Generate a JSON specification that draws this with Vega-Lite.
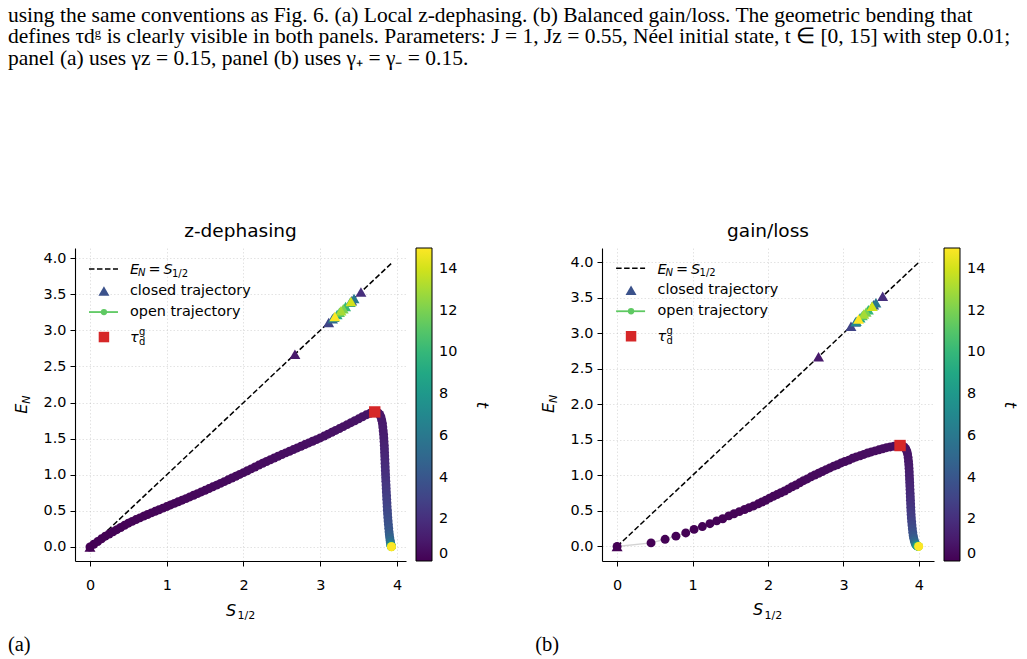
{
  "$schema": "https://vega.github.io/schema/vega-lite/v6.json",
  "background": "white",
  "padding": {"left": 7, "top": 4, "right": 5, "bottom": 5},
  "title": {
    "text": [
      "using the same conventions as Fig. 6. (a) Local z-dephasing. (b) Balanced gain/loss. The geometric bending that",
      "defines τdᵍ is clearly visible in both panels. Parameters: J = 1, Jz = 0.55, Néel initial state, t ∈ [0, 15] with step 0.01;",
      "panel (a) uses γz = 0.15, panel (b) uses γ₊ = γ₋ = 0.15."
    ],
    "anchor": "start",
    "frame": "bounds",
    "font": "Liberation Serif",
    "fontSize": 21.5,
    "fontWeight": "normal",
    "lineHeight": 21.7,
    "color": "black",
    "offset": 152
  },
  "datasets": {
    "diagA": [{"S": 0, "E": 0}, {"S": 3.93, "E": 3.93}],
    "diagB": [{"S": 0, "E": 0}, {"S": 4.0, "E": 4.0}],
    "tauA": [{"S": 3.71, "E": 1.87}],
    "tauB": [{"S": 3.75, "E": 1.42}],
    "note": [{"item": "annotation"}],
    "closedA": [
      {"S": 0, "E": 0, "t": 0}, {"S": 2.67, "E": 2.67, "t": 1}, {"S": 3.53, "E": 3.53, "t": 2},
      {"S": 3.11, "E": 3.11, "t": 3}, {"S": 3.41, "E": 3.41, "t": 4}, {"S": 3.16, "E": 3.16, "t": 5},
      {"S": 3.44, "E": 3.44, "t": 6}, {"S": 3.18, "E": 3.18, "t": 7}, {"S": 3.39, "E": 3.39, "t": 8},
      {"S": 3.22, "E": 3.22, "t": 9}, {"S": 3.33, "E": 3.33, "t": 10}, {"S": 3.25, "E": 3.25, "t": 11},
      {"S": 3.30, "E": 3.30, "t": 12}, {"S": 3.27, "E": 3.27, "t": 13}, {"S": 3.40, "E": 3.40, "t": 14},
      {"S": 3.19, "E": 3.19, "t": 15}
    ],
    "closedB": [
      {"S": 0, "E": 0, "t": 0}, {"S": 2.67, "E": 2.67, "t": 1}, {"S": 3.52, "E": 3.52, "t": 2},
      {"S": 3.10, "E": 3.10, "t": 3}, {"S": 3.40, "E": 3.40, "t": 4}, {"S": 3.16, "E": 3.16, "t": 5},
      {"S": 3.43, "E": 3.43, "t": 6}, {"S": 3.17, "E": 3.17, "t": 7}, {"S": 3.38, "E": 3.38, "t": 8},
      {"S": 3.22, "E": 3.22, "t": 9}, {"S": 3.33, "E": 3.33, "t": 10}, {"S": 3.25, "E": 3.25, "t": 11},
      {"S": 3.30, "E": 3.30, "t": 12}, {"S": 3.27, "E": 3.27, "t": 13}, {"S": 3.38, "E": 3.38, "t": 14},
      {"S": 3.20, "E": 3.20, "t": 15}
    ],
    "openA": [
      {"S": 0.00, "E": 0.000, "t": 0.00}, {"S": 0.05, "E": 0.038, "t": 0.01}, {"S": 0.10, "E": 0.075, "t": 0.02},
      {"S": 0.15, "E": 0.113, "t": 0.03}, {"S": 0.20, "E": 0.150, "t": 0.04}, {"S": 0.25, "E": 0.180, "t": 0.05},
      {"S": 0.30, "E": 0.210, "t": 0.06}, {"S": 0.35, "E": 0.240, "t": 0.07}, {"S": 0.40, "E": 0.270, "t": 0.08},
      {"S": 0.45, "E": 0.300, "t": 0.09}, {"S": 0.50, "E": 0.330, "t": 0.10}, {"S": 0.55, "E": 0.355, "t": 0.11},
      {"S": 0.60, "E": 0.380, "t": 0.12}, {"S": 0.65, "E": 0.403, "t": 0.13}, {"S": 0.70, "E": 0.427, "t": 0.14},
      {"S": 0.75, "E": 0.450, "t": 0.15}, {"S": 0.80, "E": 0.472, "t": 0.16}, {"S": 0.85, "E": 0.494, "t": 0.17},
      {"S": 0.90, "E": 0.516, "t": 0.18}, {"S": 0.95, "E": 0.538, "t": 0.19}, {"S": 1.00, "E": 0.560, "t": 0.20},
      {"S": 1.05, "E": 0.582, "t": 0.21}, {"S": 1.10, "E": 0.604, "t": 0.22}, {"S": 1.15, "E": 0.626, "t": 0.23},
      {"S": 1.20, "E": 0.648, "t": 0.24}, {"S": 1.25, "E": 0.670, "t": 0.25}, {"S": 1.30, "E": 0.693, "t": 0.26},
      {"S": 1.35, "E": 0.716, "t": 0.27}, {"S": 1.40, "E": 0.739, "t": 0.28}, {"S": 1.45, "E": 0.762, "t": 0.29},
      {"S": 1.50, "E": 0.785, "t": 0.30}, {"S": 1.55, "E": 0.809, "t": 0.31}, {"S": 1.60, "E": 0.833, "t": 0.32},
      {"S": 1.65, "E": 0.857, "t": 0.33}, {"S": 1.70, "E": 0.881, "t": 0.34}, {"S": 1.75, "E": 0.905, "t": 0.35},
      {"S": 1.80, "E": 0.930, "t": 0.36}, {"S": 1.85, "E": 0.955, "t": 0.37}, {"S": 1.90, "E": 0.980, "t": 0.38},
      {"S": 1.95, "E": 1.005, "t": 0.39}, {"S": 2.00, "E": 1.030, "t": 0.40}, {"S": 2.05, "E": 1.056, "t": 0.41},
      {"S": 2.10, "E": 1.082, "t": 0.42}, {"S": 2.15, "E": 1.108, "t": 0.43}, {"S": 2.20, "E": 1.134, "t": 0.44},
      {"S": 2.25, "E": 1.160, "t": 0.45}, {"S": 2.30, "E": 1.184, "t": 0.46}, {"S": 2.35, "E": 1.208, "t": 0.47},
      {"S": 2.40, "E": 1.232, "t": 0.48}, {"S": 2.45, "E": 1.256, "t": 0.49}, {"S": 2.50, "E": 1.280, "t": 0.50},
      {"S": 2.55, "E": 1.303, "t": 0.51}, {"S": 2.60, "E": 1.326, "t": 0.52}, {"S": 2.65, "E": 1.349, "t": 0.53},
      {"S": 2.70, "E": 1.372, "t": 0.54}, {"S": 2.75, "E": 1.395, "t": 0.55}, {"S": 2.80, "E": 1.418, "t": 0.56},
      {"S": 2.85, "E": 1.441, "t": 0.57}, {"S": 2.90, "E": 1.464, "t": 0.58}, {"S": 2.95, "E": 1.487, "t": 0.59},
      {"S": 3.00, "E": 1.510, "t": 0.60}, {"S": 3.05, "E": 1.536, "t": 0.61}, {"S": 3.10, "E": 1.562, "t": 0.62},
      {"S": 3.15, "E": 1.588, "t": 0.63}, {"S": 3.20, "E": 1.614, "t": 0.64}, {"S": 3.25, "E": 1.640, "t": 0.65},
      {"S": 3.30, "E": 1.667, "t": 0.66}, {"S": 3.35, "E": 1.694, "t": 0.67}, {"S": 3.40, "E": 1.721, "t": 0.68},
      {"S": 3.45, "E": 1.748, "t": 0.69}, {"S": 3.50, "E": 1.775, "t": 0.70}, {"S": 3.55, "E": 1.803, "t": 0.71},
      {"S": 3.60, "E": 1.830, "t": 0.72}, {"S": 3.65, "E": 1.852, "t": 0.73}, {"S": 3.70, "E": 1.868, "t": 0.74},
      {"S": 3.73, "E": 1.866, "t": 0.77}, {"S": 3.755, "E": 1.855, "t": 0.80}, {"S": 3.775, "E": 1.835, "t": 0.84},
      {"S": 3.79, "E": 1.800, "t": 0.88}, {"S": 3.80, "E": 1.760, "t": 0.93}, {"S": 3.81, "E": 1.710, "t": 0.98},
      {"S": 3.815, "E": 1.660, "t": 1.03}, {"S": 3.82, "E": 1.610, "t": 1.09}, {"S": 3.825, "E": 1.560, "t": 1.15},
      {"S": 3.828, "E": 1.510, "t": 1.21}, {"S": 3.831, "E": 1.460, "t": 1.28}, {"S": 3.834, "E": 1.410, "t": 1.35},
      {"S": 3.836, "E": 1.360, "t": 1.42}, {"S": 3.838, "E": 1.310, "t": 1.50}, {"S": 3.840, "E": 1.260, "t": 1.58},
      {"S": 3.842, "E": 1.210, "t": 1.66}, {"S": 3.844, "E": 1.160, "t": 1.74}, {"S": 3.846, "E": 1.110, "t": 1.83},
      {"S": 3.848, "E": 1.060, "t": 1.92}, {"S": 3.850, "E": 1.010, "t": 2.01}, {"S": 3.852, "E": 0.960, "t": 2.10},
      {"S": 3.854, "E": 0.910, "t": 2.20}, {"S": 3.857, "E": 0.860, "t": 2.30}, {"S": 3.859, "E": 0.810, "t": 2.40},
      {"S": 3.861, "E": 0.760, "t": 2.51}, {"S": 3.864, "E": 0.710, "t": 2.62}, {"S": 3.866, "E": 0.660, "t": 2.73},
      {"S": 3.869, "E": 0.610, "t": 2.85}, {"S": 3.871, "E": 0.560, "t": 2.97}, {"S": 3.874, "E": 0.510, "t": 3.10},
      {"S": 3.877, "E": 0.460, "t": 3.24}, {"S": 3.880, "E": 0.410, "t": 3.39}, {"S": 3.884, "E": 0.360, "t": 3.55},
      {"S": 3.888, "E": 0.310, "t": 3.73}, {"S": 3.892, "E": 0.260, "t": 3.93}, {"S": 3.896, "E": 0.210, "t": 4.16},
      {"S": 3.900, "E": 0.170, "t": 4.42}, {"S": 3.905, "E": 0.130, "t": 4.72}, {"S": 3.910, "E": 0.095, "t": 5.06},
      {"S": 3.914, "E": 0.065, "t": 5.45}, {"S": 3.918, "E": 0.042, "t": 5.92}, {"S": 3.921, "E": 0.026, "t": 6.5},
      {"S": 3.923, "E": 0.016, "t": 7.2}, {"S": 3.925, "E": 0.010, "t": 8.0}, {"S": 3.926, "E": 0.007, "t": 9.5},
      {"S": 3.927, "E": 0.005, "t": 11.5}, {"S": 3.928, "E": 0.004, "t": 13.5}, {"S": 3.928, "E": 0.003, "t": 15.0}
    ],
    "openB": [
      {"S": 0.00, "E": 0.000, "t": 0.00}, {"S": 0.45, "E": 0.050, "t": 0.01}, {"S": 0.636, "E": 0.100, "t": 0.02},
      {"S": 0.78, "E": 0.145, "t": 0.03}, {"S": 0.91, "E": 0.190, "t": 0.04}, {"S": 1.02, "E": 0.240, "t": 0.05},
      {"S": 1.13, "E": 0.280, "t": 0.06}, {"S": 1.23, "E": 0.320, "t": 0.07}, {"S": 1.32, "E": 0.360, "t": 0.08},
      {"S": 1.40, "E": 0.390, "t": 0.09}, {"S": 1.48, "E": 0.430, "t": 0.10}, {"S": 1.55, "E": 0.460, "t": 0.11},
      {"S": 1.62, "E": 0.490, "t": 0.12}, {"S": 1.69, "E": 0.520, "t": 0.13}, {"S": 1.75, "E": 0.545, "t": 0.14},
      {"S": 1.81, "E": 0.570, "t": 0.15}, {"S": 1.87, "E": 0.600, "t": 0.16}, {"S": 1.92, "E": 0.625, "t": 0.17},
      {"S": 1.97, "E": 0.650, "t": 0.18}, {"S": 2.02, "E": 0.680, "t": 0.19}, {"S": 2.07, "E": 0.705, "t": 0.20},
      {"S": 2.12, "E": 0.730, "t": 0.21}, {"S": 2.17, "E": 0.755, "t": 0.22}, {"S": 2.22, "E": 0.780, "t": 0.23},
      {"S": 2.27, "E": 0.810, "t": 0.24}, {"S": 2.32, "E": 0.840, "t": 0.25}, {"S": 2.37, "E": 0.865, "t": 0.26},
      {"S": 2.42, "E": 0.895, "t": 0.27}, {"S": 2.47, "E": 0.925, "t": 0.28}, {"S": 2.52, "E": 0.950, "t": 0.29},
      {"S": 2.57, "E": 0.980, "t": 0.30}, {"S": 2.62, "E": 1.005, "t": 0.31}, {"S": 2.67, "E": 1.030, "t": 0.32},
      {"S": 2.72, "E": 1.055, "t": 0.33}, {"S": 2.77, "E": 1.080, "t": 0.34}, {"S": 2.82, "E": 1.105, "t": 0.35},
      {"S": 2.87, "E": 1.130, "t": 0.36}, {"S": 2.92, "E": 1.150, "t": 0.37}, {"S": 2.97, "E": 1.175, "t": 0.38},
      {"S": 3.02, "E": 1.195, "t": 0.39}, {"S": 3.07, "E": 1.215, "t": 0.40}, {"S": 3.12, "E": 1.240, "t": 0.41},
      {"S": 3.17, "E": 1.260, "t": 0.42}, {"S": 3.22, "E": 1.275, "t": 0.43}, {"S": 3.27, "E": 1.295, "t": 0.44},
      {"S": 3.32, "E": 1.315, "t": 0.45}, {"S": 3.37, "E": 1.330, "t": 0.46}, {"S": 3.42, "E": 1.345, "t": 0.47},
      {"S": 3.47, "E": 1.360, "t": 0.48}, {"S": 3.52, "E": 1.375, "t": 0.49}, {"S": 3.57, "E": 1.390, "t": 0.50},
      {"S": 3.62, "E": 1.400, "t": 0.51}, {"S": 3.67, "E": 1.410, "t": 0.52}, {"S": 3.72, "E": 1.418, "t": 0.53},
      {"S": 3.78, "E": 1.415, "t": 0.58}, {"S": 3.805, "E": 1.400, "t": 0.62}, {"S": 3.825, "E": 1.375, "t": 0.67},
      {"S": 3.84, "E": 1.340, "t": 0.72}, {"S": 3.85, "E": 1.300, "t": 0.78}, {"S": 3.857, "E": 1.250, "t": 0.85},
      {"S": 3.862, "E": 1.200, "t": 0.92}, {"S": 3.866, "E": 1.150, "t": 1.00}, {"S": 3.869, "E": 1.100, "t": 1.08},
      {"S": 3.872, "E": 1.050, "t": 1.16}, {"S": 3.874, "E": 1.000, "t": 1.25}, {"S": 3.876, "E": 0.950, "t": 1.34},
      {"S": 3.878, "E": 0.900, "t": 1.44}, {"S": 3.880, "E": 0.850, "t": 1.54}, {"S": 3.882, "E": 0.800, "t": 1.65},
      {"S": 3.884, "E": 0.750, "t": 1.76}, {"S": 3.886, "E": 0.700, "t": 1.88}, {"S": 3.888, "E": 0.650, "t": 2.00},
      {"S": 3.890, "E": 0.600, "t": 2.13}, {"S": 3.892, "E": 0.550, "t": 2.27}, {"S": 3.894, "E": 0.500, "t": 2.42},
      {"S": 3.897, "E": 0.450, "t": 2.58}, {"S": 3.900, "E": 0.400, "t": 2.75}, {"S": 3.904, "E": 0.350, "t": 2.94},
      {"S": 3.908, "E": 0.300, "t": 3.15}, {"S": 3.913, "E": 0.250, "t": 3.38}, {"S": 3.918, "E": 0.200, "t": 3.64},
      {"S": 3.924, "E": 0.155, "t": 3.93}, {"S": 3.931, "E": 0.115, "t": 4.27}, {"S": 3.939, "E": 0.080, "t": 4.67},
      {"S": 3.948, "E": 0.052, "t": 5.15}, {"S": 3.957, "E": 0.031, "t": 5.75}, {"S": 3.966, "E": 0.017, "t": 6.5},
      {"S": 3.975, "E": 0.008, "t": 7.5}, {"S": 3.983, "E": 0.004, "t": 8.8}, {"S": 3.990, "E": 0.002, "t": 10.5},
      {"S": 3.995, "E": 0.001, "t": 12.5}, {"S": 3.998, "E": 0.000, "t": 15.0}
    ]
  },
  "hconcat": [
    {
      "title": {"text": "(a)", "orient": "bottom", "anchor": "start", "frame": "bounds", "font": "Liberation Serif", "fontSize": 20.5, "fontWeight": "normal", "color": "black", "offset": 14, "dx": -6},
      "resolve": {"scale": {"color": "independent"}, "legend": {"color": "independent"}},
      "vconcat": [
        {
          "width": 331,
          "height": 313,
          "title": {"text": "z-dephasing", "fontSize": 18.5, "fontWeight": "normal", "offset": 8, "frame": "group", "anchor": "middle"},
          "layer": [
            {"data": {"name": "diagA"}, "mark": {"type": "line", "color": "black", "strokeWidth": 1.5, "strokeDash": [5.5, 2.5]},
             "encoding": {
               "x": {"field": "S", "type": "quantitative", "scale": {"domain": [-0.195, 4.117], "nice": false, "zero": false}, "axis": {"title": null, "values": [0, 1, 2, 3, 4], "format": "d"}},
               "y": {"field": "E", "type": "quantitative", "scale": {"domain": [-0.194, 4.14], "nice": false, "zero": false}, "axis": {"title": null, "values": [0, 0.5, 1, 1.5, 2, 2.5, 3, 3.5, 4], "format": ".1f"}}
             }},
            {"data": {"name": "openA"}, "mark": {"type": "line", "color": "#c8c8c8", "strokeWidth": 1.5, "opacity": 0.8},
             "encoding": {
               "x": {"field": "S", "type": "quantitative", "axis": {"title": null, "values": [0, 1, 2, 3, 4], "format": "d"}},
               "y": {"field": "E", "type": "quantitative", "axis": {"title": null, "values": [0, 0.5, 1, 1.5, 2, 2.5, 3, 3.5, 4], "format": ".1f"}},
               "order": {"field": "t", "type": "quantitative"}}},
            {"data": {"name": "openA"}, "mark": {"type": "circle", "size": 80, "opacity": 1},
             "encoding": {
               "x": {"field": "S", "type": "quantitative", "axis": {"title": null, "values": [0, 1, 2, 3, 4], "format": "d"}},
               "y": {"field": "E", "type": "quantitative", "axis": {"title": null, "values": [0, 0.5, 1, 1.5, 2, 2.5, 3, 3.5, 4], "format": ".1f"}},
               "color": {"field": "t", "type": "quantitative", "scale": {"scheme": "viridis", "domain": [0, 15]},
                 "legend": {"title": "t", "orient": "right", "offset": 10, "direction": "vertical", "gradientLength": 313, "gradientThickness": 16, "gradientStrokeColor": "black", "gradientStrokeWidth": 1, "values": [0, 2, 4, 6, 8, 10, 12, 14], "labelFontSize": 14.4, "labelColor": "black", "labelOffset": 7, "titleOrient": "right", "titleAnchor": "middle", "titleFontSize": 16, "titleFontStyle": "italic", "titleFontWeight": "normal", "titleColor": "black", "titlePadding": 17,
                   "encode": {"labels": {"update": {"baseline": {"value": "middle"}}}, "title": {"update": {"angle": {"value": 270}}}}}},
               "order": {"field": "t", "type": "quantitative"}
             }},
            {"data": {"name": "closedA"}, "mark": {"type": "point", "shape": "triangle-up", "filled": true, "size": 120, "opacity": 1},
             "encoding": {
               "x": {"field": "S", "type": "quantitative", "axis": {"title": null, "values": [0, 1, 2, 3, 4], "format": "d"}},
               "y": {"field": "E", "type": "quantitative", "axis": {"title": null, "values": [0, 0.5, 1, 1.5, 2, 2.5, 3, 3.5, 4], "format": ".1f"}},
               "color": {"field": "t", "type": "quantitative", "scale": {"scheme": "viridis", "domain": [0, 15]}}, "order": {"field": "t", "type": "quantitative"}}},
            {"data": {"name": "tauA"}, "mark": {"type": "square", "size": 130, "color": "#d62728", "opacity": 1},
             "encoding": {
               "x": {"field": "S", "type": "quantitative", "axis": {"title": null, "values": [0, 1, 2, 3, 4], "format": "d"}},
               "y": {"field": "E", "type": "quantitative", "axis": {"title": null, "values": [0, 0.5, 1, 1.5, 2, 2.5, 3, 3.5, 4], "format": ".1f"}}}},
            {"data": {"name": "note"}, "mark": {"type": "rule", "color": "black", "strokeWidth": 1.5, "strokeDash": [5.5, 2.5]}, "encoding": {"x": {"datum": -0.013, "type": "quantitative", "axis": {"title": null, "values": [0, 1, 2, 3, 4], "format": "d"}}, "x2": {"datum": 0.365}, "y": {"datum": 3.848, "type": "quantitative", "axis": {"title": null, "values": [0, 0.5, 1, 1.5, 2, 2.5, 3, 3.5, 4], "format": ".1f"}}}},
            {"data": {"name": "note"}, "mark": {"type": "point", "shape": "triangle-up", "filled": true, "size": 120, "color": "#3b528b", "opacity": 1}, "encoding": {"x": {"datum": 0.182, "type": "quantitative", "axis": {"title": null, "values": [0, 1, 2, 3, 4], "format": "d"}}, "y": {"datum": 3.543, "type": "quantitative", "axis": {"title": null, "values": [0, 0.5, 1, 1.5, 2, 2.5, 3, 3.5, 4], "format": ".1f"}}}},
            {"data": {"name": "note"}, "mark": {"type": "rule", "color": "#5ec962", "strokeWidth": 1.8}, "encoding": {"x": {"datum": -0.013, "type": "quantitative", "axis": {"title": null, "values": [0, 1, 2, 3, 4], "format": "d"}}, "x2": {"datum": 0.365}, "y": {"datum": 3.253, "type": "quantitative", "axis": {"title": null, "values": [0, 0.5, 1, 1.5, 2, 2.5, 3, 3.5, 4], "format": ".1f"}}}},
            {"data": {"name": "note"}, "mark": {"type": "circle", "size": 40, "color": "#5ec962", "opacity": 1}, "encoding": {"x": {"datum": 0.182, "type": "quantitative", "axis": {"title": null, "values": [0, 1, 2, 3, 4], "format": "d"}}, "y": {"datum": 3.253, "type": "quantitative", "axis": {"title": null, "values": [0, 0.5, 1, 1.5, 2, 2.5, 3, 3.5, 4], "format": ".1f"}}}},
            {"data": {"name": "note"}, "mark": {"type": "square", "size": 110, "color": "#d62728", "opacity": 1}, "encoding": {"x": {"datum": 0.182, "type": "quantitative", "axis": {"title": null, "values": [0, 1, 2, 3, 4], "format": "d"}}, "y": {"datum": 2.907, "type": "quantitative", "axis": {"title": null, "values": [0, 0.5, 1, 1.5, 2, 2.5, 3, 3.5, 4], "format": ".1f"}}}},
            {"data": {"name": "note"}, "mark": {"type": "text", "text": "closed trajectory", "fontSize": 14.4, "align": "left", "baseline": "middle"}, "encoding": {"x": {"datum": 0.521, "type": "quantitative", "axis": {"title": null, "values": [0, 1, 2, 3, 4], "format": "d"}}, "y": {"datum": 3.543, "type": "quantitative", "axis": {"title": null, "values": [0, 0.5, 1, 1.5, 2, 2.5, 3, 3.5, 4], "format": ".1f"}}}},
            {"data": {"name": "note"}, "mark": {"type": "text", "text": "open trajectory", "fontSize": 14.4, "align": "left", "baseline": "middle"}, "encoding": {"x": {"datum": 0.521, "type": "quantitative", "axis": {"title": null, "values": [0, 1, 2, 3, 4], "format": "d"}}, "y": {"datum": 3.253, "type": "quantitative", "axis": {"title": null, "values": [0, 0.5, 1, 1.5, 2, 2.5, 3, 3.5, 4], "format": ".1f"}}}},
            {"data": {"name": "note"}, "mark": {"type": "text", "text": "E", "fontStyle": "italic", "fontSize": 14.4, "align": "left", "baseline": "alphabetic"}, "encoding": {"x": {"datum": 0.521, "type": "quantitative", "axis": {"title": null, "values": [0, 1, 2, 3, 4], "format": "d"}}, "y": {"datum": 3.774, "type": "quantitative", "axis": {"title": null, "values": [0, 0.5, 1, 1.5, 2, 2.5, 3, 3.5, 4], "format": ".1f"}}}},
            {"data": {"name": "note"}, "mark": {"type": "text", "text": "N", "fontStyle": "italic", "fontSize": 10, "align": "left", "baseline": "alphabetic", "dx": 8, "dy": 2}, "encoding": {"x": {"datum": 0.521, "type": "quantitative", "axis": {"title": null, "values": [0, 1, 2, 3, 4], "format": "d"}}, "y": {"datum": 3.774, "type": "quantitative", "axis": {"title": null, "values": [0, 0.5, 1, 1.5, 2, 2.5, 3, 3.5, 4], "format": ".1f"}}}},
            {"data": {"name": "note"}, "mark": {"type": "text", "text": "=", "fontSize": 14.4, "align": "left", "baseline": "alphabetic", "dx": 18.5}, "encoding": {"x": {"datum": 0.521, "type": "quantitative", "axis": {"title": null, "values": [0, 1, 2, 3, 4], "format": "d"}}, "y": {"datum": 3.774, "type": "quantitative", "axis": {"title": null, "values": [0, 0.5, 1, 1.5, 2, 2.5, 3, 3.5, 4], "format": ".1f"}}}},
            {"data": {"name": "note"}, "mark": {"type": "text", "text": "S", "fontStyle": "italic", "fontSize": 14.4, "align": "left", "baseline": "alphabetic", "dx": 33.5}, "encoding": {"x": {"datum": 0.521, "type": "quantitative", "axis": {"title": null, "values": [0, 1, 2, 3, 4], "format": "d"}}, "y": {"datum": 3.774, "type": "quantitative", "axis": {"title": null, "values": [0, 0.5, 1, 1.5, 2, 2.5, 3, 3.5, 4], "format": ".1f"}}}},
            {"data": {"name": "note"}, "mark": {"type": "text", "text": "1/2", "fontSize": 10, "align": "left", "baseline": "alphabetic", "dx": 42, "dy": 2.5}, "encoding": {"x": {"datum": 0.521, "type": "quantitative", "axis": {"title": null, "values": [0, 1, 2, 3, 4], "format": "d"}}, "y": {"datum": 3.774, "type": "quantitative", "axis": {"title": null, "values": [0, 0.5, 1, 1.5, 2, 2.5, 3, 3.5, 4], "format": ".1f"}}}},
            {"data": {"name": "note"}, "mark": {"type": "text", "text": "τ", "fontStyle": "italic", "fontSize": 14.4, "align": "left", "baseline": "alphabetic"}, "encoding": {"x": {"datum": 0.521, "type": "quantitative", "axis": {"title": null, "values": [0, 1, 2, 3, 4], "format": "d"}}, "y": {"datum": 2.842, "type": "quantitative", "axis": {"title": null, "values": [0, 0.5, 1, 1.5, 2, 2.5, 3, 3.5, 4], "format": ".1f"}}}},
            {"data": {"name": "note"}, "mark": {"type": "text", "text": "g", "fontSize": 10, "align": "left", "baseline": "alphabetic", "dx": 9, "dy": -7}, "encoding": {"x": {"datum": 0.521, "type": "quantitative", "axis": {"title": null, "values": [0, 1, 2, 3, 4], "format": "d"}}, "y": {"datum": 2.842, "type": "quantitative", "axis": {"title": null, "values": [0, 0.5, 1, 1.5, 2, 2.5, 3, 3.5, 4], "format": ".1f"}}}},
            {"data": {"name": "note"}, "mark": {"type": "text", "text": "d", "fontSize": 10, "align": "left", "baseline": "alphabetic", "dx": 9, "dy": 3.5}, "encoding": {"x": {"datum": 0.521, "type": "quantitative", "axis": {"title": null, "values": [0, 1, 2, 3, 4], "format": "d"}}, "y": {"datum": 2.842, "type": "quantitative", "axis": {"title": null, "values": [0, 0.5, 1, 1.5, 2, 2.5, 3, 3.5, 4], "format": ".1f"}}}},
            {"data": {"name": "note"}, "mark": {"type": "text", "text": "S", "fontStyle": "italic", "fontSize": 16, "align": "left", "baseline": "alphabetic"}, "encoding": {"x": {"datum": 1.772, "type": "quantitative", "axis": {"title": null, "values": [0, 1, 2, 3, 4], "format": "d"}}, "y": {"datum": -0.955, "type": "quantitative", "axis": {"title": null, "values": [0, 0.5, 1, 1.5, 2, 2.5, 3, 3.5, 4], "format": ".1f"}}}},
            {"data": {"name": "note"}, "mark": {"type": "text", "text": "1/2", "fontSize": 11, "align": "left", "baseline": "alphabetic", "dx": 11.5, "dy": 3.3}, "encoding": {"x": {"datum": 1.772, "type": "quantitative", "axis": {"title": null, "values": [0, 1, 2, 3, 4], "format": "d"}}, "y": {"datum": -0.955, "type": "quantitative", "axis": {"title": null, "values": [0, 0.5, 1, 1.5, 2, 2.5, 3, 3.5, 4], "format": ".1f"}}}},
            {"data": {"name": "note"}, "mark": {"type": "text", "text": "E", "fontStyle": "italic", "fontSize": 16, "align": "left", "baseline": "alphabetic", "angle": 270}, "encoding": {"x": {"datum": -0.821, "type": "quantitative", "axis": {"title": null, "values": [0, 1, 2, 3, 4], "format": "d"}}, "y": {"datum": 1.845, "type": "quantitative", "axis": {"title": null, "values": [0, 0.5, 1, 1.5, 2, 2.5, 3, 3.5, 4], "format": ".1f"}}}},
            {"data": {"name": "note"}, "mark": {"type": "text", "text": "N", "fontStyle": "italic", "fontSize": 11, "align": "left", "baseline": "alphabetic", "angle": 270, "dx": 10, "dy": 3.3}, "encoding": {"x": {"datum": -0.821, "type": "quantitative", "axis": {"title": null, "values": [0, 1, 2, 3, 4], "format": "d"}}, "y": {"datum": 1.845, "type": "quantitative", "axis": {"title": null, "values": [0, 0.5, 1, 1.5, 2, 2.5, 3, 3.5, 4], "format": ".1f"}}}}
          ]
        }
      ]
    },
    {
      "title": {"text": "(b)", "orient": "bottom", "anchor": "start", "frame": "bounds", "font": "Liberation Serif", "fontSize": 20.5, "fontWeight": "normal", "color": "black", "offset": 14, "dx": -6},
      "resolve": {"scale": {"color": "independent"}, "legend": {"color": "independent"}},
      "vconcat": [
        {
          "width": 332,
          "height": 313,
          "title": {"text": "gain/loss", "fontSize": 18.5, "fontWeight": "normal", "offset": 8, "frame": "group", "anchor": "middle"},
          "layer": [
            {"data": {"name": "diagB"}, "mark": {"type": "line", "color": "black", "strokeWidth": 1.5, "strokeDash": [5.5, 2.5]},
             "encoding": {
               "x": {"field": "S", "type": "quantitative", "scale": {"domain": [-0.2, 4.2], "nice": false, "zero": false}, "axis": {"title": null, "values": [0, 1, 2, 3, 4], "format": "d"}},
               "y": {"field": "E", "type": "quantitative", "scale": {"domain": [-0.205, 4.2], "nice": false, "zero": false}, "axis": {"title": null, "values": [0, 0.5, 1, 1.5, 2, 2.5, 3, 3.5, 4], "format": ".1f"}}
             }},
            {"data": {"name": "openB"}, "mark": {"type": "line", "color": "#c8c8c8", "strokeWidth": 1.5, "opacity": 0.8},
             "encoding": {
               "x": {"field": "S", "type": "quantitative", "axis": {"title": null, "values": [0, 1, 2, 3, 4], "format": "d"}},
               "y": {"field": "E", "type": "quantitative", "axis": {"title": null, "values": [0, 0.5, 1, 1.5, 2, 2.5, 3, 3.5, 4], "format": ".1f"}},
               "order": {"field": "t", "type": "quantitative"}}},
            {"data": {"name": "openB"}, "mark": {"type": "circle", "size": 80, "opacity": 1},
             "encoding": {
               "x": {"field": "S", "type": "quantitative", "axis": {"title": null, "values": [0, 1, 2, 3, 4], "format": "d"}},
               "y": {"field": "E", "type": "quantitative", "axis": {"title": null, "values": [0, 0.5, 1, 1.5, 2, 2.5, 3, 3.5, 4], "format": ".1f"}},
               "color": {"field": "t", "type": "quantitative", "scale": {"scheme": "viridis", "domain": [0, 15]},
                 "legend": {"title": "t", "orient": "right", "offset": 10, "direction": "vertical", "gradientLength": 313, "gradientThickness": 16, "gradientStrokeColor": "black", "gradientStrokeWidth": 1, "values": [0, 2, 4, 6, 8, 10, 12, 14], "labelFontSize": 14.4, "labelColor": "black", "labelOffset": 7, "titleOrient": "right", "titleAnchor": "middle", "titleFontSize": 16, "titleFontStyle": "italic", "titleFontWeight": "normal", "titleColor": "black", "titlePadding": 17,
                   "encode": {"labels": {"update": {"baseline": {"value": "middle"}}}, "title": {"update": {"angle": {"value": 270}}}}}},
               "order": {"field": "t", "type": "quantitative"}
             }},
            {"data": {"name": "closedB"}, "mark": {"type": "point", "shape": "triangle-up", "filled": true, "size": 120, "opacity": 1},
             "encoding": {
               "x": {"field": "S", "type": "quantitative", "axis": {"title": null, "values": [0, 1, 2, 3, 4], "format": "d"}},
               "y": {"field": "E", "type": "quantitative", "axis": {"title": null, "values": [0, 0.5, 1, 1.5, 2, 2.5, 3, 3.5, 4], "format": ".1f"}},
               "color": {"field": "t", "type": "quantitative", "scale": {"scheme": "viridis", "domain": [0, 15]}}, "order": {"field": "t", "type": "quantitative"}}},
            {"data": {"name": "tauB"}, "mark": {"type": "square", "size": 130, "color": "#d62728", "opacity": 1},
             "encoding": {
               "x": {"field": "S", "type": "quantitative", "axis": {"title": null, "values": [0, 1, 2, 3, 4], "format": "d"}},
               "y": {"field": "E", "type": "quantitative", "axis": {"title": null, "values": [0, 0.5, 1, 1.5, 2, 2.5, 3, 3.5, 4], "format": ".1f"}}}},
            {"data": {"name": "note"}, "mark": {"type": "rule", "color": "black", "strokeWidth": 1.5, "strokeDash": [5.5, 2.5]}, "encoding": {"x": {"datum": -0.013, "type": "quantitative", "axis": {"title": null, "values": [0, 1, 2, 3, 4], "format": "d"}}, "x2": {"datum": 0.371}, "y": {"datum": 3.915, "type": "quantitative", "axis": {"title": null, "values": [0, 0.5, 1, 1.5, 2, 2.5, 3, 3.5, 4], "format": ".1f"}}}},
            {"data": {"name": "note"}, "mark": {"type": "point", "shape": "triangle-up", "filled": true, "size": 120, "color": "#3b528b", "opacity": 1}, "encoding": {"x": {"datum": 0.185, "type": "quantitative", "axis": {"title": null, "values": [0, 1, 2, 3, 4], "format": "d"}}, "y": {"datum": 3.606, "type": "quantitative", "axis": {"title": null, "values": [0, 0.5, 1, 1.5, 2, 2.5, 3, 3.5, 4], "format": ".1f"}}}},
            {"data": {"name": "note"}, "mark": {"type": "rule", "color": "#5ec962", "strokeWidth": 1.8}, "encoding": {"x": {"datum": -0.013, "type": "quantitative", "axis": {"title": null, "values": [0, 1, 2, 3, 4], "format": "d"}}, "x2": {"datum": 0.371}, "y": {"datum": 3.31, "type": "quantitative", "axis": {"title": null, "values": [0, 0.5, 1, 1.5, 2, 2.5, 3, 3.5, 4], "format": ".1f"}}}},
            {"data": {"name": "note"}, "mark": {"type": "circle", "size": 40, "color": "#5ec962", "opacity": 1}, "encoding": {"x": {"datum": 0.185, "type": "quantitative", "axis": {"title": null, "values": [0, 1, 2, 3, 4], "format": "d"}}, "y": {"datum": 3.31, "type": "quantitative", "axis": {"title": null, "values": [0, 0.5, 1, 1.5, 2, 2.5, 3, 3.5, 4], "format": ".1f"}}}},
            {"data": {"name": "note"}, "mark": {"type": "square", "size": 110, "color": "#d62728", "opacity": 1}, "encoding": {"x": {"datum": 0.185, "type": "quantitative", "axis": {"title": null, "values": [0, 1, 2, 3, 4], "format": "d"}}, "y": {"datum": 2.958, "type": "quantitative", "axis": {"title": null, "values": [0, 0.5, 1, 1.5, 2, 2.5, 3, 3.5, 4], "format": ".1f"}}}},
            {"data": {"name": "note"}, "mark": {"type": "text", "text": "closed trajectory", "fontSize": 14.4, "align": "left", "baseline": "middle"}, "encoding": {"x": {"datum": 0.536, "type": "quantitative", "axis": {"title": null, "values": [0, 1, 2, 3, 4], "format": "d"}}, "y": {"datum": 3.606, "type": "quantitative", "axis": {"title": null, "values": [0, 0.5, 1, 1.5, 2, 2.5, 3, 3.5, 4], "format": ".1f"}}}},
            {"data": {"name": "note"}, "mark": {"type": "text", "text": "open trajectory", "fontSize": 14.4, "align": "left", "baseline": "middle"}, "encoding": {"x": {"datum": 0.536, "type": "quantitative", "axis": {"title": null, "values": [0, 1, 2, 3, 4], "format": "d"}}, "y": {"datum": 3.31, "type": "quantitative", "axis": {"title": null, "values": [0, 0.5, 1, 1.5, 2, 2.5, 3, 3.5, 4], "format": ".1f"}}}},
            {"data": {"name": "note"}, "mark": {"type": "text", "text": "E", "fontStyle": "italic", "fontSize": 14.4, "align": "left", "baseline": "alphabetic"}, "encoding": {"x": {"datum": 0.536, "type": "quantitative", "axis": {"title": null, "values": [0, 1, 2, 3, 4], "format": "d"}}, "y": {"datum": 3.841, "type": "quantitative", "axis": {"title": null, "values": [0, 0.5, 1, 1.5, 2, 2.5, 3, 3.5, 4], "format": ".1f"}}}},
            {"data": {"name": "note"}, "mark": {"type": "text", "text": "N", "fontStyle": "italic", "fontSize": 10, "align": "left", "baseline": "alphabetic", "dx": 8, "dy": 2}, "encoding": {"x": {"datum": 0.536, "type": "quantitative", "axis": {"title": null, "values": [0, 1, 2, 3, 4], "format": "d"}}, "y": {"datum": 3.841, "type": "quantitative", "axis": {"title": null, "values": [0, 0.5, 1, 1.5, 2, 2.5, 3, 3.5, 4], "format": ".1f"}}}},
            {"data": {"name": "note"}, "mark": {"type": "text", "text": "=", "fontSize": 14.4, "align": "left", "baseline": "alphabetic", "dx": 18.5}, "encoding": {"x": {"datum": 0.536, "type": "quantitative", "axis": {"title": null, "values": [0, 1, 2, 3, 4], "format": "d"}}, "y": {"datum": 3.841, "type": "quantitative", "axis": {"title": null, "values": [0, 0.5, 1, 1.5, 2, 2.5, 3, 3.5, 4], "format": ".1f"}}}},
            {"data": {"name": "note"}, "mark": {"type": "text", "text": "S", "fontStyle": "italic", "fontSize": 14.4, "align": "left", "baseline": "alphabetic", "dx": 33.5}, "encoding": {"x": {"datum": 0.536, "type": "quantitative", "axis": {"title": null, "values": [0, 1, 2, 3, 4], "format": "d"}}, "y": {"datum": 3.841, "type": "quantitative", "axis": {"title": null, "values": [0, 0.5, 1, 1.5, 2, 2.5, 3, 3.5, 4], "format": ".1f"}}}},
            {"data": {"name": "note"}, "mark": {"type": "text", "text": "1/2", "fontSize": 10, "align": "left", "baseline": "alphabetic", "dx": 42, "dy": 2.5}, "encoding": {"x": {"datum": 0.536, "type": "quantitative", "axis": {"title": null, "values": [0, 1, 2, 3, 4], "format": "d"}}, "y": {"datum": 3.841, "type": "quantitative", "axis": {"title": null, "values": [0, 0.5, 1, 1.5, 2, 2.5, 3, 3.5, 4], "format": ".1f"}}}},
            {"data": {"name": "note"}, "mark": {"type": "text", "text": "τ", "fontStyle": "italic", "fontSize": 14.4, "align": "left", "baseline": "alphabetic"}, "encoding": {"x": {"datum": 0.536, "type": "quantitative", "axis": {"title": null, "values": [0, 1, 2, 3, 4], "format": "d"}}, "y": {"datum": 2.892, "type": "quantitative", "axis": {"title": null, "values": [0, 0.5, 1, 1.5, 2, 2.5, 3, 3.5, 4], "format": ".1f"}}}},
            {"data": {"name": "note"}, "mark": {"type": "text", "text": "g", "fontSize": 10, "align": "left", "baseline": "alphabetic", "dx": 9, "dy": -7}, "encoding": {"x": {"datum": 0.536, "type": "quantitative", "axis": {"title": null, "values": [0, 1, 2, 3, 4], "format": "d"}}, "y": {"datum": 2.892, "type": "quantitative", "axis": {"title": null, "values": [0, 0.5, 1, 1.5, 2, 2.5, 3, 3.5, 4], "format": ".1f"}}}},
            {"data": {"name": "note"}, "mark": {"type": "text", "text": "d", "fontSize": 10, "align": "left", "baseline": "alphabetic", "dx": 9, "dy": 3.5}, "encoding": {"x": {"datum": 0.536, "type": "quantitative", "axis": {"title": null, "values": [0, 1, 2, 3, 4], "format": "d"}}, "y": {"datum": 2.892, "type": "quantitative", "axis": {"title": null, "values": [0, 0.5, 1, 1.5, 2, 2.5, 3, 3.5, 4], "format": ".1f"}}}},
            {"data": {"name": "note"}, "mark": {"type": "text", "text": "S", "fontStyle": "italic", "fontSize": 16, "align": "left", "baseline": "alphabetic"}, "encoding": {"x": {"datum": 1.801, "type": "quantitative", "axis": {"title": null, "values": [0, 1, 2, 3, 4], "format": "d"}}, "y": {"datum": -0.971, "type": "quantitative", "axis": {"title": null, "values": [0, 0.5, 1, 1.5, 2, 2.5, 3, 3.5, 4], "format": ".1f"}}}},
            {"data": {"name": "note"}, "mark": {"type": "text", "text": "1/2", "fontSize": 11, "align": "left", "baseline": "alphabetic", "dx": 11.5, "dy": 3.3}, "encoding": {"x": {"datum": 1.801, "type": "quantitative", "axis": {"title": null, "values": [0, 1, 2, 3, 4], "format": "d"}}, "y": {"datum": -0.971, "type": "quantitative", "axis": {"title": null, "values": [0, 0.5, 1, 1.5, 2, 2.5, 3, 3.5, 4], "format": ".1f"}}}},
            {"data": {"name": "note"}, "mark": {"type": "text", "text": "E", "fontStyle": "italic", "fontSize": 16, "align": "left", "baseline": "alphabetic", "angle": 270}, "encoding": {"x": {"datum": -0.834, "type": "quantitative", "axis": {"title": null, "values": [0, 1, 2, 3, 4], "format": "d"}}, "y": {"datum": 1.877, "type": "quantitative", "axis": {"title": null, "values": [0, 0.5, 1, 1.5, 2, 2.5, 3, 3.5, 4], "format": ".1f"}}}},
            {"data": {"name": "note"}, "mark": {"type": "text", "text": "N", "fontStyle": "italic", "fontSize": 11, "align": "left", "baseline": "alphabetic", "angle": 270, "dx": 10, "dy": 3.3}, "encoding": {"x": {"datum": -0.834, "type": "quantitative", "axis": {"title": null, "values": [0, 1, 2, 3, 4], "format": "d"}}, "y": {"datum": 1.877, "type": "quantitative", "axis": {"title": null, "values": [0, 0.5, 1, 1.5, 2, 2.5, 3, 3.5, 4], "format": ".1f"}}}}
          ]
        }
      ]
    }
  ],
  "spacing": 45,
  "resolve": {"scale": {"x": "independent", "y": "independent", "color": "independent"}, "legend": {"color": "independent"}},
  "config": {
    "font": "DejaVu Sans",
    "view": {"stroke": null},
    "axis": {
      "labelFont": "DejaVu Sans", "labelFontSize": 14.4, "labelColor": "black", "labelOverlap": false,
      "tickColor": "black", "tickSize": 5, "tickWidth": 1,
      "domainColor": "black", "domainWidth": 1.1, "labelPadding": 4,
      "grid": true, "gridColor": "#b0b0b0", "gridDash": [1.5, 2], "gridWidth": 0.7, "gridOpacity": 0.5
    },
    "axisX": {"labelAngle": 0, "labelPadding": 12.5},
    "text": {"font": "DejaVu Sans", "color": "black"},
    "title": {"font": "DejaVu Sans", "fontWeight": "normal", "color": "black"},
    "legend": {"labelFont": "DejaVu Sans", "titleFont": "DejaVu Sans"}
  }
}
